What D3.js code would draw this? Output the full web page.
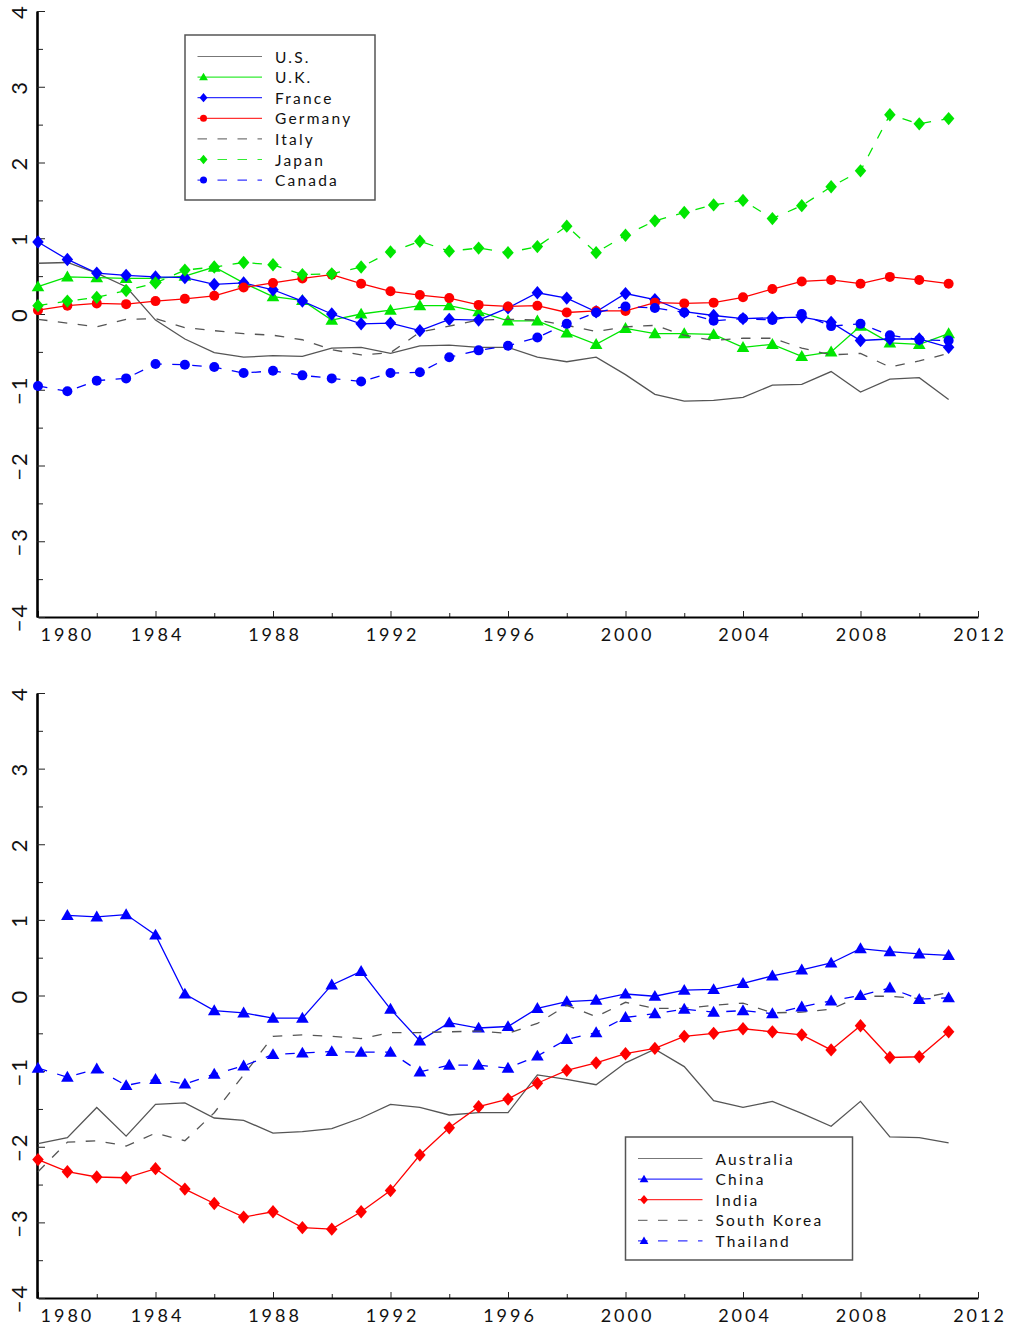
<!DOCTYPE html>
<html>
<head>
<meta charset="utf-8">
<script src="https://cdn.jsdelivr.net/npm/d3@7/dist/d3.min.js"></script>
<style>
  html, body { margin: 0; padding: 0; background: #fff; }
  svg { display: block; }
  text { font-family: Lato, "DejaVu Sans", sans-serif; font-weight: 400; fill: #111; }
</style>
</head>
<body>
<svg id="chart" width="1013" height="1332"></svg>
<script>
// Years covered by every series
const years = d3.range(1980, 2012);

// Upper panel: G7 economies
const us      = [0.67,0.68,0.54,0.36,-0.08,-0.33,-0.51,-0.57,-0.55,-0.56,
                 -0.45,-0.44,-0.52,-0.42,-0.41,-0.44,-0.44,-0.57,-0.63,-0.57,
                 -0.80,-1.06,-1.15,-1.14,-1.10,-0.94,-0.93,-0.76,-1.03,-0.86,-0.84,-1.13];
const uk      = [0.36,0.49,0.48,0.47,0.47,0.50,0.62,0.41,0.23,0.18,
                 -0.08,0.00,0.05,0.11,0.11,0.03,-0.09,-0.09,-0.25,-0.40,
                 -0.19,-0.26,-0.26,-0.27,-0.44,-0.40,-0.56,-0.50,-0.16,-0.38,-0.40,-0.26];
const france  = [0.95,0.72,0.54,0.51,0.49,0.48,0.39,0.41,0.32,0.17,
                 0.00,-0.13,-0.12,-0.22,-0.07,-0.08,0.08,0.28,0.21,0.03,
                 0.27,0.19,0.03,-0.02,-0.06,-0.05,-0.04,-0.11,-0.35,-0.33,-0.33,-0.44];
const germany = [0.05,0.11,0.14,0.13,0.17,0.20,0.24,0.35,0.41,0.47,
                 0.52,0.40,0.30,0.25,0.21,0.12,0.10,0.11,0.02,0.04,
                 0.04,0.15,0.14,0.15,0.22,0.33,0.43,0.45,0.40,0.49,0.45,0.40];
const italy   = [-0.07,-0.12,-0.17,-0.07,-0.06,-0.18,-0.22,-0.26,-0.28,-0.34,
                 -0.47,-0.54,-0.51,-0.24,-0.16,-0.08,-0.07,-0.08,-0.15,-0.23,
                 -0.17,-0.15,-0.28,-0.35,-0.32,-0.32,-0.45,-0.54,-0.52,-0.70,-0.62,-0.52];
const japan   = [0.11,0.17,0.22,0.31,0.41,0.58,0.62,0.68,0.65,0.52,
                 0.53,0.62,0.82,0.96,0.83,0.87,0.81,0.89,1.16,0.81,
                 1.04,1.23,1.34,1.44,1.50,1.26,1.43,1.68,1.89,2.63,2.51,2.58];
const canada  = [-0.95,-1.02,-0.88,-0.85,-0.66,-0.67,-0.70,-0.78,-0.75,-0.81,
                 -0.85,-0.89,-0.78,-0.77,-0.57,-0.48,-0.42,-0.31,-0.13,0.02,
                 0.10,0.08,0.02,-0.09,-0.06,-0.08,0.00,-0.16,-0.13,-0.28,-0.34,-0.35];

// Lower panel: Asia-Pacific economies
const australia  = [-1.96,-1.88,-1.48,-1.86,-1.44,-1.42,-1.62,-1.65,-1.82,-1.80,
                    -1.76,-1.62,-1.44,-1.48,-1.58,-1.55,-1.55,-1.05,-1.11,-1.18,
                    -0.89,-0.71,-0.94,-1.39,-1.48,-1.40,-1.56,-1.73,-1.40,-1.87,-1.88,-1.95];
const china      = [null,1.06,1.04,1.07,0.80,0.02,-0.20,-0.23,-0.30,-0.30,
                    0.14,0.32,-0.18,-0.60,-0.36,-0.43,-0.41,-0.17,-0.08,-0.06,
                    0.02,-0.01,0.07,0.08,0.16,0.26,0.34,0.43,0.62,0.58,0.55,0.53];
const india      = [-2.17,-2.33,-2.40,-2.41,-2.29,-2.56,-2.75,-2.93,-2.86,-3.07,
                    -3.09,-2.86,-2.58,-2.11,-1.75,-1.47,-1.37,-1.16,-0.99,-0.89,
                    -0.77,-0.70,-0.54,-0.50,-0.44,-0.48,-0.52,-0.72,-0.40,-0.82,-0.81,-0.48];
const southKorea = [-2.33,-1.94,-1.92,-1.99,-1.82,-1.92,-1.55,-1.05,-0.54,-0.52,
                    -0.54,-0.57,-0.49,-0.49,-0.48,-0.47,-0.50,-0.37,-0.13,-0.28,
                    -0.09,-0.17,-0.17,-0.13,-0.10,-0.23,-0.22,-0.18,-0.01,-0.01,-0.04,0.04];
const thailand   = [-0.96,-1.08,-0.97,-1.19,-1.11,-1.17,-1.04,-0.93,-0.78,-0.76,
                    -0.74,-0.75,-0.75,-1.01,-0.92,-0.92,-0.96,-0.80,-0.58,-0.49,
                    -0.29,-0.24,-0.18,-0.22,-0.20,-0.24,-0.15,-0.07,0.00,0.10,-0.05,-0.03];

// Axis tick values
const xMajorTicks = [1980,1984,1988,1992,1996,2000,2004,2008,2012];
const xMinorTicks = [1982,1986,1990,1994,1998,2002,2006,2010];
const yMajorTicks = [-4,-3,-2,-1,0,1,2,3,4];
const yMinorTicks = [-3.5,-2.5,-1.5,-0.5,0.5,1.5,2.5,3.5];

const GRAY = "#555", GREEN = "#00e600", BLUE = "#0000ff", RED = "#ff0000";
const DASH = "9.5,10.5";
const FONT = "Lato, 'DejaVu Sans', sans-serif";

const topSeries = [
  { name: "U.S.",    values: us,      color: GRAY,  dash: null, marker: null },
  { name: "U.K.",    values: uk,      color: GREEN, dash: null, marker: "triangle" },
  { name: "France",  values: france,  color: BLUE,  dash: null, marker: "diamond" },
  { name: "Germany", values: germany, color: RED,   dash: null, marker: "circle" },
  { name: "Italy",   values: italy,   color: GRAY,  dash: DASH, marker: null },
  { name: "Japan",   values: japan,   color: GREEN, dash: DASH, marker: "diamond" },
  { name: "Canada",  values: canada,  color: BLUE,  dash: DASH, marker: "circle" }
];
const bottomSeries = [
  { name: "Australia",   values: australia,  color: GRAY, dash: null, marker: null },
  { name: "China",       values: china,      color: BLUE, dash: null, marker: "triangle" },
  { name: "India",       values: india,      color: RED,  dash: null, marker: "diamond" },
  { name: "South Korea", values: southKorea, color: GRAY, dash: DASH, marker: null },
  { name: "Thailand",    values: thailand,   color: BLUE, dash: DASH, marker: "triangle" }
];

const svg = d3.select("#chart");
const x = d3.scaleLinear().domain([1980, 2012]).range([38, 978]);

// Marker shapes as path generators centred on (0,0)
function markerPath(type, s) {
  if (type === "diamond") return `M0,${-s*0.58}L${s*0.5},0L0,${s*0.58}L${-s*0.5},0Z`;
  if (type === "triangle") return `M0,${-s*0.55}L${s*0.55},${s*0.4}L${-s*0.55},${s*0.4}Z`;
  return d3.symbol(d3.symbolCircle, Math.PI * (s/2) * (s/2))();
}

function drawPanel(series, yTop, yBottom, legend) {
  const y = d3.scaleLinear().domain([-4, 4]).range([yBottom, yTop]);
  const g = svg.append("g");

  // x axis: major ticks with labels, minor ticks without
  const xAxisMajor = d3.axisBottom(x).tickValues(xMajorTicks)
    .tickSizeInner(-6).tickSizeOuter(0).tickPadding(11).tickFormat(d3.format("d"));
  const xAxisMinor = d3.axisBottom(x).tickValues(xMinorTicks)
    .tickSizeInner(-4).tickSizeOuter(0).tickFormat("");
  const gxMinor = g.append("g").attr("transform", `translate(0,${yBottom})`).call(xAxisMinor);
  gxMinor.select(".domain").remove();
  const gx = g.append("g").attr("transform", `translate(0,${yBottom})`).call(xAxisMajor);
  gx.select(".domain").attr("stroke", "#000").attr("stroke-width", 2);
  gx.selectAll(".tick line").attr("stroke", "#222");
  gxMinor.selectAll(".tick line").attr("stroke", "#222");
  gx.selectAll(".tick text")
    .attr("font-size", 18).attr("letter-spacing", "3px")
    .attr("font-family", FONT).attr("font-weight", 400)
    .attr("fill", "#111")
    .attr("dx", "1.5px");
  gx.selectAll(".tick text").filter(d => d === 1980)
    .attr("text-anchor", "start").attr("dx", "2px");

  // y axis: ticks point into the plot, labels rotated
  const yAxisMinor = d3.axisLeft(y).tickValues(yMinorTicks)
    .tickSizeInner(-6).tickSizeOuter(0).tickFormat("");
  const yAxisMajor = d3.axisLeft(y).tickValues(yMajorTicks)
    .tickSizeInner(-8).tickSizeOuter(0).tickFormat(d3.format("d"));
  const gyMinor = g.append("g").attr("transform", "translate(37,0)").call(yAxisMinor);
  gyMinor.select(".domain").remove();
  gyMinor.selectAll(".tick line").attr("stroke", "#222");
  const gy = g.append("g").attr("transform", "translate(37,0)").call(yAxisMajor);
  gy.select(".domain").attr("stroke", "#000").attr("stroke-width", 2.6);
  gy.selectAll(".tick line").attr("stroke", "#222");
  gy.selectAll(".tick text")
    .attr("x", null).attr("dy", null)
    .attr("transform", "translate(-19,0) rotate(-90)")
    .attr("text-anchor", "middle").attr("dominant-baseline", "central")
    .attr("font-size", 22).attr("letter-spacing", "2px")
    .attr("font-family", FONT).attr("font-weight", 400)
    .attr("fill", "#111");

  // series lines and markers
  const line = d3.line()
    .defined(d => d.v !== null)
    .x(d => x(d.year)).y(d => y(d.v));
  series.forEach(s => {
    const pts = years.map((yr, i) => ({ year: yr, v: s.values[i] }));
    g.append("path").datum(pts)
      .attr("d", line)
      .attr("fill", "none")
      .attr("stroke", s.color)
      .attr("stroke-width", 1.3)
      .attr("stroke-dasharray", s.dash);
    if (s.marker) {
      const size = s.marker === "circle" ? 10 : 11.5;
      g.append("g").selectAll("path")
        .data(pts.filter(d => d.v !== null))
        .join("path")
        .attr("transform", d => `translate(${x(d.year)},${y(d.v)})`)
        .attr("d", markerPath(s.marker, size))
        .attr("fill", s.color);
    }
  });

  // legend box
  const lg = g.append("g");
  lg.append("rect")
    .attr("x", legend.x).attr("y", legend.y)
    .attr("width", legend.w).attr("height", legend.h)
    .attr("fill", "#fff").attr("stroke", "#555").attr("stroke-width", 1.5);
  series.forEach((s, i) => {
    const cy = legend.y + 21.5 + i * 20.6;
    const x0 = legend.x + 12.5, x1 = legend.x + 77;
    lg.append("line")
      .attr("x1", x0).attr("x2", x1).attr("y1", cy).attr("y2", cy)
      .attr("stroke", s.color).attr("stroke-width", 1.2)
      .attr("stroke-opacity", 0.8)
      .attr("stroke-dasharray", s.dash);
    if (s.marker) {
      lg.append("path")
        .attr("transform", `translate(${x0 + 6},${cy})`)
        .attr("d", markerPath(s.marker, s.marker === "circle" ? 7 : 8))
        .attr("fill", s.color);
    }
    lg.append("text")
      .attr("x", legend.x + 90).attr("y", cy)
      .attr("dominant-baseline", "central")
      .attr("font-size", 15.5).attr("letter-spacing", "2.2px")
      .text(s.name);
  });
}

drawPanel(topSeries, 11, 617, { x: 185, y: 35, w: 190, h: 165 });
drawPanel(bottomSeries, 693, 1298, { x: 625.5, y: 1137, w: 227, h: 123 });
</script>
</body>
</html>
